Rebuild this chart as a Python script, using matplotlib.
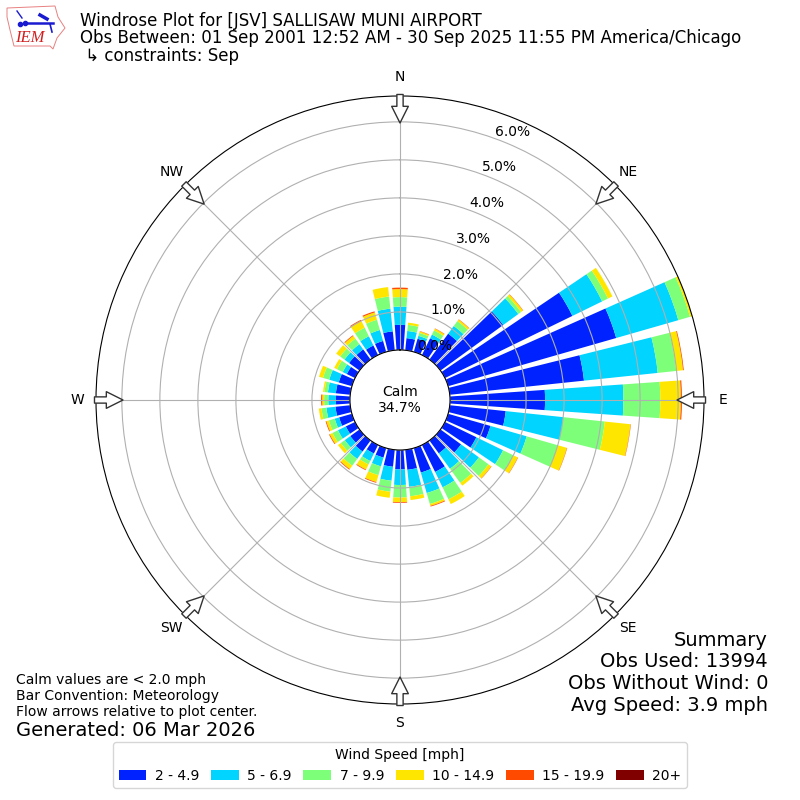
import numpy as np
import matplotlib
matplotlib.use('Agg')
import matplotlib.pyplot as plt
from matplotlib.patches import Polygon

# direction of each bar, degrees from north
directions = list(range(0, 360, 10))

# outer edge of each speed band in percent (stacked)
top_2 = [.66, .32, .36, .49, .84, 2.04, 3.73, 4.60, 3.55, 2.50, 1.48, 1.16, .92, .67, .42, .79, .67, .53,
         .51, .45, .26, .25, .36, .30, .27, .35, .39, .37, .38, .36, .24, .34, .33, .28, .30, .50]
top_5 = [1.14, .51, .44, .60, 1.09, 2.53, 4.60, 6.30, 5.50, 4.56, 3.00, 2.15, 1.70, 1.25, .92, 1.24, 1.23, .98,
         .92, .82, .50, .47, .60, .48, .50, .47, .63, .57, .59, .62, .36, .49, .50, .55, .60, 1.10]
top_7 = [1.39, .67, .52, .72, 1.25, 2.62, 4.77, 6.62, 5.99, 5.53, 4.10, 3.00, 2.00, 1.56, 1.38, 1.59, 1.53, 1.23,
         1.25, 1.11, .74, .57, .82, .61, .66, .63, .76, .68, .68, .79, .53, .63, .68, .80, .88, 1.42]
top_10 = [1.60, .73, .56, .77, 1.30, 2.68, 4.90, 6.68, 6.17, 6.07, 4.78, 3.25, 2.13, 1.65, 1.47, 1.73, 1.58, 1.33,
          1.37, 1.27, .93, .72, .93, .70, .74, .70, .83, .73, .72, .90, .61, .76, .77, 1.00, 1.08, 1.67]
top_15 = [1.64, .73, .57, .78, 1.31, 2.69, 4.90, 6.68, 6.19, 6.10, 4.79, 3.26, 2.14, 1.66, 1.47, 1.73, 1.60, 1.33,
          1.39, 1.27, .95, .74, .95, .70, .76, .72, .83, .76, .72, .90, .61, .76, .79, 1.03, 1.11, 1.67]
top_20 = list(top_15)

speed_labels = ['2 - 4.9', '5 - 6.9', '7 - 9.9', '10 - 14.9', '15 - 19.9', '20+']
speed_colors = ['#0022ff', '#00d4ff', '#7dff7a', '#ffe600', '#ff4a00', '#800000']
compass = ['N', 'NE', 'E', 'SE', 'S', 'SW', 'W', 'NW']
rings = [0, 1, 2, 3, 4, 5, 6]

fig = plt.figure(figsize=(8, 8), dpi=100)
ax = fig.add_axes([96 / 800, 96 / 800, 608 / 800, 608 / 800], projection='polar')
ax.set_theta_zero_location('N')
ax.set_theta_direction(-1)

theta = np.radians(directions)
bottom = np.zeros(len(directions))
tops = [top_2, top_5, top_7, top_10, top_15, top_20]
for top, label, color in zip(tops, speed_labels, speed_colors):
    top = np.array(top)
    ax.bar(theta, top - bottom, width=np.radians(8), bottom=bottom, color=color, label=label, linewidth=0)
    bottom = top

ax.set_rorigin(-50 / 38)
ax.set_ylim(0, 6.68)
ax.set_rgrids(rings, ['%.1f%%' % r for r in rings], angle=20, ha='left', va='bottom')
ax.tick_params(axis='y', pad=0)
ax.set_thetagrids(np.arange(0, 360, 45), compass)
ax.tick_params(axis='x', pad=3)

# flow arrows
for d in np.arange(0, 360, 45):
    ax.annotate('', xy=(np.radians(d), 5.97), xytext=(np.radians(d), 6.72),
                arrowprops=dict(facecolor='white', edgecolor='#333333', width=4.5, headwidth=12,
                                headlength=12, linewidth=1), annotation_clip=False)

fig.text(0.5, 0.5, 'Calm\n34.7%', ha='center', va='center', fontsize=10)

fig.text(80 / 800, 1 - 21 / 800, 'Windrose Plot for [JSV] SALLISAW MUNI AIRPORT', fontsize=12, va='center')
fig.text(80 / 800, 1 - 38 / 800, 'Obs Between: 01 Sep 2001 12:52 AM - 30 Sep 2025 11:55 PM America/Chicago', fontsize=12, va='center')
fig.text(80 / 800, 1 - 56 / 800, ' \u21b3 constraints: Sep', fontsize=12, va='center')

summary = ['Summary', 'Obs Used: 13994', 'Obs Without Wind: 0', 'Avg Speed: 3.9 mph']
for i, line in enumerate(summary):
    fig.text(768 / 800, 1 - (640 + 21.7 * i) / 800, line, fontsize=14, ha='right', va='center')

notes = ['Calm values are < 2.0 mph', 'Bar Convention: Meteorology', 'Flow arrows relative to plot center.']
for i, line in enumerate(notes):
    fig.text(16 / 800, 1 - (680 + 16 * i) / 800, line, fontsize=10, va='center')
fig.text(16 / 800, 1 - 730 / 800, 'Generated: 06 Mar 2026', fontsize=14, va='center')

handles, labels = ax.get_legend_handles_labels()
fig.legend(handles, labels, title='Wind Speed [mph]', ncol=6, loc='lower center',
           bbox_to_anchor=(0.5, 0.006), fontsize=10, title_fontsize=10,
           columnspacing=0.85, handletextpad=0.6)

# IEM logo, drawn in pixels
logo = fig.add_axes([0, 0, 1, 1], facecolor='none')
logo.set_xlim(0, 800)
logo.set_ylim(800, 0)
logo.axis('off')
outline = [(7, 8), (55, 6), (58, 17), (65, 28), (57, 38), (53, 49), (50, 46), (14, 46), (10, 30), (7, 17)]
logo.add_patch(Polygon(outline, closed=True, facecolor='white', edgecolor='#e88080', linewidth=0.7))
logo.plot([25, 53], [23, 23], color='#1a1ad0', linewidth=1.8)
logo.plot([17, 22], [11, 18], color='#1a1ad0', linewidth=1)
logo.plot([40, 47], [15, 19], color='#1a1ad0', linewidth=2.5)
logo.plot([50, 52], [24, 32], color='#1a1ad0', linewidth=1.2)
logo.plot([25, 20], [23, 24], 'o', color='#1a1ad0', markersize=3)
logo.text(15, 38, 'IEM', family='Liberation Serif', style='italic', color='#d02020', fontsize=12, va='center')

fig.savefig('out.png', dpi=100)
